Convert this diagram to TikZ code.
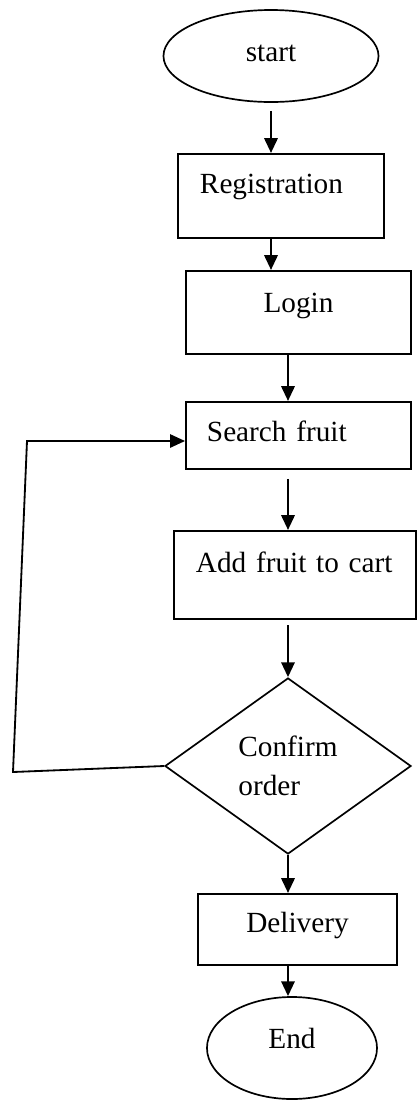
\documentclass[tikz,border=0pt]{standalone}
\usepackage{fontspec}
\setmainfont{Liberation Serif}
\usetikzlibrary{shapes.geometric, arrows.meta, positioning, calc}

\begin{document}
\begin{tikzpicture}[
  x=0.025cm, y=-0.025cm,
  font=\fontsize{20.8}{28}\selectfont,
  terminal/.style={
    ellipse, draw, line width=1.2pt, inner sep=0pt
  },
  stage/.style n args={4}{
    rectangle, draw, line width=1.4pt, anchor=north west,
    inner ysep=0pt, inner xsep=#1, text width=#2,
    text height=#3, text depth=#4, align=left
  },
  decision/.style={
    diamond, draw, line width=1.2pt, inner sep=0pt, align=left
  },
  flow/.style={line width=1.8pt, -{Triangle[length=0.37cm, width=0.33cm]}}
]
  \useasboundingbox (0,0) rectangle (416,1101);

  \node[terminal, minimum width=5.375cm, minimum height=2.3cm,
        text height=0.275cm, text depth=0pt] (start) at (271,56) {start};
  \node[stage={0.55cm}{4.05cm}{0.975cm}{1.125cm}] (reg) at (177,153) {Registration};
  \node[stage={0.25cm}{5.125cm}{1.025cm}{1.05cm}, align=center] (login) at (185,270) {Login};
  \node[stage={0.525cm}{4.575cm}{0.975cm}{0.7cm}] (search) at (185,401) {Search fruit};
  \node[stage={0.55cm}{4.95cm}{1.025cm}{1.175cm}] (add) at (173,530) {Add fruit to cart};
  \node[decision, minimum width=6.15cm, minimum height=4.4cm] (dec) at (288,766) {Confirm\\order};
  \node[stage={0.25cm}{4.475cm}{0.95cm}{0.825cm}, align=center] (deliv) at (197,893) {Delivery};
  \node[terminal, minimum width=4.25cm, minimum height=2.55cm,
        text height=0.25cm, text depth=0.25cm] (finish) at (292,1048) {End};

  % main flow
  \draw[flow, shorten <=0.2cm] (start.south) -- (start.south |- reg.north);
  \draw[flow] (start.south |- reg.south) -- (start.south |- login.north);
  \draw[flow] (dec.north |- login.south) -- (dec.north |- search.north);
  \draw[flow, shorten <=0.225cm] (dec.north |- search.south) -- (dec.north |- add.north);
  \draw[flow, shorten <=0.125cm] (dec.north |- add.south) -- (dec.north);
  \draw[flow] (dec.south) -- (dec.south |- deliv.north);
  \draw[flow] (dec.south |- deliv.south) -- (dec.south |- finish.north);

  % back to search
  \coordinate (back1) at (13,772);
  \coordinate (back2) at (27,441);
  \draw[flow, line width=1.3pt] (dec.west) -- (back1) -- (back2) -- (back2 -| search.west);
\end{tikzpicture}
\end{document}
